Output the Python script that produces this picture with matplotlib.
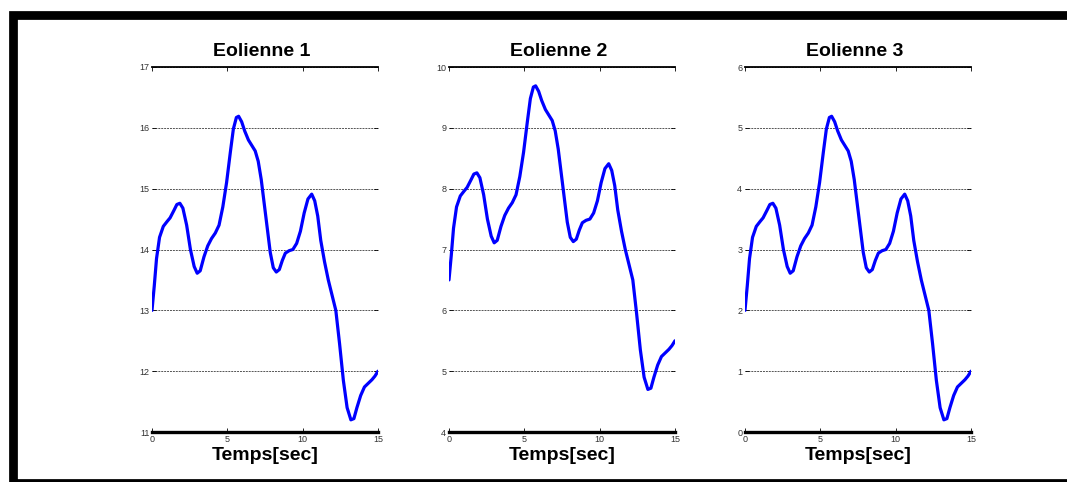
import matplotlib
matplotlib.use("Agg")
import matplotlib.pyplot as plt
from matplotlib.patches import Rectangle

# Time axis (seconds) and wind-turbine signals
temps = [0.0, 0.15, 0.3, 0.5, 0.75, 1.0, 1.2, 1.45, 1.65, 1.85, 2.05, 2.3, 2.55,
         2.8, 3.0, 3.2, 3.45, 3.7, 3.95, 4.2, 4.45, 4.7, 4.95, 5.2, 5.4, 5.6,
         5.75, 5.95, 6.15, 6.4, 6.65, 6.85, 7.05, 7.25, 7.45, 7.65, 7.85, 8.05,
         8.25, 8.45, 8.65, 8.85, 9.1, 9.35, 9.6, 9.85, 10.1, 10.35, 10.6, 10.8,
         11.0, 11.2, 11.45, 11.7, 11.95, 12.2, 12.45, 12.7, 12.95, 13.2, 13.4,
         13.6, 13.85, 14.1, 14.35, 14.6, 14.8, 15.0]

eolienne1 = [13.0, 13.4, 13.85, 14.2, 14.38, 14.46, 14.52, 14.64, 14.74, 14.76,
             14.68, 14.4, 14.0, 13.72, 13.61, 13.65, 13.88, 14.06, 14.18, 14.27,
             14.4, 14.7, 15.1, 15.6, 15.98, 16.17, 16.19, 16.1, 15.95, 15.8,
             15.7, 15.62, 15.45, 15.15, 14.75, 14.35, 13.95, 13.7, 13.63, 13.67,
             13.82, 13.94, 13.98, 14.0, 14.1, 14.3, 14.6, 14.83, 14.91, 14.8,
             14.55, 14.15, 13.8, 13.5, 13.25, 13.0, 12.45, 11.85, 11.4, 11.2,
             11.22, 11.4, 11.6, 11.74, 11.8, 11.86, 11.92, 12.0]

eolienne2 = [6.5, 6.9, 7.35, 7.7, 7.88, 7.96, 8.02, 8.14, 8.24, 8.26,
             8.18, 7.9, 7.5, 7.22, 7.11, 7.15, 7.38, 7.56, 7.68, 7.77,
             7.9, 8.2, 8.6, 9.1, 9.48, 9.67, 9.69, 9.6, 9.45, 9.3,
             9.2, 9.12, 8.95, 8.65, 8.25, 7.85, 7.45, 7.2, 7.13, 7.17,
             7.32, 7.44, 7.48, 7.5, 7.6, 7.8, 8.1, 8.33, 8.41, 8.3,
             8.05, 7.65, 7.3, 7.0, 6.75, 6.5, 5.95, 5.35, 4.9, 4.7,
             4.72, 4.9, 5.1, 5.24, 5.3, 5.36, 5.42, 5.5]

eolienne3 = [2.0, 2.4, 2.85, 3.2, 3.38, 3.46, 3.52, 3.64, 3.74, 3.76,
             3.68, 3.4, 3.0, 2.72, 2.61, 2.65, 2.88, 3.06, 3.18, 3.27,
             3.4, 3.7, 4.1, 4.6, 4.98, 5.17, 5.19, 5.1, 4.95, 4.8,
             4.7, 4.62, 4.45, 4.15, 3.75, 3.35, 2.95, 2.7, 2.63, 2.67,
             2.82, 2.94, 2.98, 3.0, 3.1, 3.3, 3.6, 3.83, 3.91, 3.8,
             3.55, 3.15, 2.8, 2.5, 2.25, 2.0, 1.45, 0.85, 0.4, 0.2,
             0.22, 0.4, 0.6, 0.74, 0.8, 0.86, 0.92, 1.0]

titres = ["Eolienne 1", "Eolienne 2", "Eolienne 3"]
series = [eolienne1, eolienne2, eolienne3]
y_limites = [(11, 17), (4, 10), (0, 6)]
x_ticks = [0, 5, 10, 15]
x_label = "Temps[sec]"

W, H = 1067, 482
fig = plt.figure(figsize=(W / 100, H / 100), dpi=100)
fig.patch.set_facecolor("white")

lefts_px = [152, 449, 745]
width_px = 226
top_px, bottom_px = 67, 432

for i in range(3):
    ax = fig.add_axes([lefts_px[i] / W, 1 - bottom_px / H,
                       width_px / W, (bottom_px - top_px) / H])
    ax.plot(temps, series[i], color="#0000ff", linewidth=2.3,
            solid_joinstyle="round", solid_capstyle="round", zorder=3)
    lo, hi = y_limites[i]
    ax.set_xlim(0, 15)
    ax.set_ylim(lo, hi)
    ax.set_xticks(x_ticks)
    ax.set_yticks(list(range(lo, hi + 1)))
    ax.yaxis.grid(True, linestyle=(0, (2, 1)), color="#555555", linewidth=0.7)
    ax.xaxis.grid(False)
    ax.spines["left"].set_visible(False)
    ax.spines["right"].set_visible(False)
    ax.spines["top"].set_linewidth(1.3)
    ax.spines["bottom"].set_linewidth(2.4)
    ax.tick_params(axis="x", direction="in", length=3, width=0.6,
                   top=True, bottom=True, labelsize=6.5, pad=2,
                   labelcolor="#333333")
    ax.tick_params(axis="y", direction="in", length=3, width=0.6,
                   left=True, right=True, labelsize=6.5, pad=2,
                   labelcolor="#333333")
    for lbl in ax.get_xticklabels() + ax.get_yticklabels():
        lbl.set_fontfamily("Liberation Sans")
    ax.set_title(titres[i], fontsize=14, fontweight="bold",
                 fontfamily="Liberation Sans", pad=8, x=0.485)
    ax.set_xlabel(x_label, fontsize=14, fontweight="bold",
                  fontfamily="Liberation Sans", labelpad=2)

# Thick black frame around the figure
frame = Rectangle((12.5 / W, -1 / H), (W + 20) / W, (H - 14.5 + 1) / H,
                  transform=fig.transFigure, fill=False, edgecolor="black",
                  linewidth=6.3, clip_on=False)
fig.add_artist(frame)

fig.savefig("out.png", dpi=100, facecolor="white")
